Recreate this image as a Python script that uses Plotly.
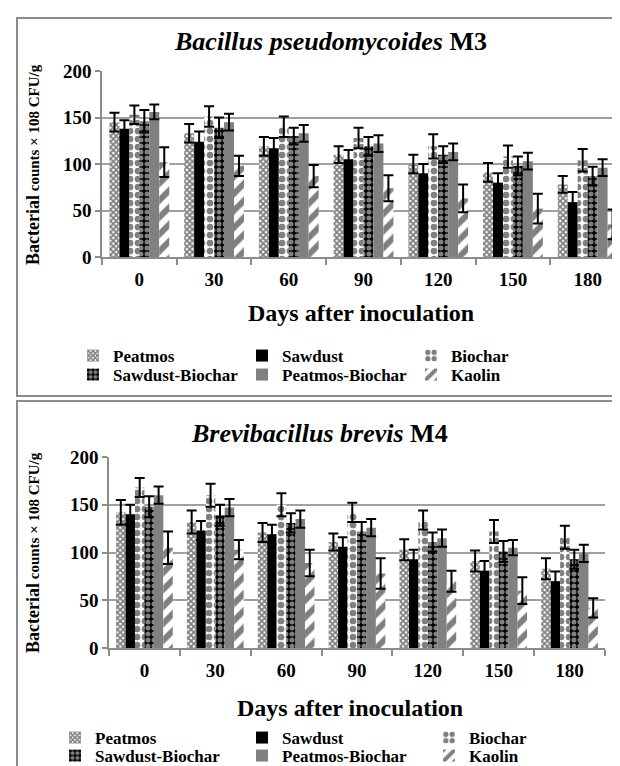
import plotly.graph_objects as go

W, H = 620, 766
FONT = "Liberation Serif, Times New Roman, serif"

days = ["0", "30", "60", "90", "120", "150", "180"]
series_names = ["Peatmos", "Sawdust", "Biochar", "Sawdust-Biochar", "Peatmos-Biochar", "Kaolin"]

# Bacillus pseudomycoides M3
m3_peatmos = [145, 133, 119, 110, 100, 91, 78]
m3_peatmos_err = [10, 10, 10, 9, 10, 10, 9]
m3_sawdust = [138, 124, 117, 105, 90, 80, 59]
m3_sawdust_err = [9, 11, 11, 10, 10, 10, 11]
m3_biochar = [153, 151, 140, 128, 119, 108, 104]
m3_biochar_err = [10, 11, 11, 11, 13, 12, 12]
m3_sawdust_biochar = [146, 139, 130, 119, 110, 98, 87]
m3_sawdust_biochar_err = [12, 11, 9, 10, 9, 10, 10]
m3_peatmos_biochar = [156, 145, 133, 122, 113, 103, 96]
m3_peatmos_biochar_err = [8, 9, 9, 9, 9, 9, 9]
m3_kaolin = [102, 98, 87, 74, 63, 52, 35]
m3_kaolin_err = [16, 11, 12, 14, 15, 16, 16]

# Brevibacillus brevis M4
m4_peatmos = [142, 132, 121, 111, 103, 91, 83]
m4_peatmos_err = [13, 12, 10, 9, 11, 11, 11]
m4_sawdust = [140, 123, 119, 106, 93, 81, 70]
m4_sawdust_err = [10, 10, 10, 10, 10, 10, 10]
m4_biochar = [168, 160, 150, 142, 134, 122, 116]
m4_biochar_err = [10, 12, 12, 10, 10, 12, 12]
m4_sawdust_biochar = [148, 139, 131, 122, 111, 101, 93]
m4_sawdust_biochar_err = [11, 11, 10, 10, 10, 11, 10]
m4_peatmos_biochar = [160, 147, 135, 126, 115, 105, 99]
m4_peatmos_biochar_err = [9, 9, 9, 9, 9, 8, 9]
m4_kaolin = [105, 103, 89, 78, 70, 60, 42]
m4_kaolin_err = [17, 10, 14, 16, 11, 14, 10]

y_ticks = [0, 50, 100, 150, 200]


def px(x):
    return x / W


def py(y):
    return 1 - y / H


styles = [
    dict(color="white", pattern=dict(shape="x", fgcolor="black", bgcolor="white", size=4, solidity=0.7)),
    dict(color="black"),
    dict(color="white", pattern=dict(shape=".", fgcolor="black", bgcolor="white", size=8, solidity=0.55)),
    dict(color="black", pattern=dict(shape=".", fgcolor="white", bgcolor="black", size=6, solidity=0.55)),
    dict(color="#808080"),
    dict(color="white", pattern=dict(shape="/", fgcolor="black", bgcolor="white", size=12, solidity=0.5)),
]

fig = go.Figure()

panels = [
    dict(vals=[m3_peatmos, m3_sawdust, m3_biochar, m3_sawdust_biochar, m3_peatmos_biochar, m3_kaolin],
         errs=[m3_peatmos_err, m3_sawdust_err, m3_biochar_err, m3_sawdust_biochar_err,
               m3_peatmos_biochar_err, m3_kaolin_err],
         xa="x", ya="y", legends=["legend", "legend2"]),
    dict(vals=[m4_peatmos, m4_sawdust, m4_biochar, m4_sawdust_biochar, m4_peatmos_biochar, m4_kaolin],
         errs=[m4_peatmos_err, m4_sawdust_err, m4_biochar_err, m4_sawdust_biochar_err,
               m4_peatmos_biochar_err, m4_kaolin_err],
         xa="x2", ya="y2", legends=["legend3", "legend4"]),
]

for p in panels:
    for i, (name, v, e, st) in enumerate(zip(series_names, p["vals"], p["errs"], styles)):
        marker = dict(color=st["color"], line=dict(width=0))
        if "pattern" in st:
            marker["pattern"] = st["pattern"]
        fig.add_trace(go.Bar(
            x=days, y=v, name=name, marker=marker,
            error_y=dict(type="data", array=e, visible=True, color="black", thickness=2, width=5),
            xaxis=p["xa"], yaxis=p["ya"], legend=p["legends"][i // 3],
        ))

axis_common = dict(showline=True, linecolor="#8c8c8c", linewidth=1.5, ticks="outside",
                   tickcolor="#8c8c8c", tickwidth=1.5,
                   tickfont=dict(family=FONT, size=19, color="black", weight="bold"))

xcommon = dict(axis_common, type="category", tickson="boundaries", ticklen=6, showgrid=False,
               ticklabelstandoff=4)
ycommon = dict(axis_common, range=[0, 200], tickvals=y_ticks, ticklen=5, showgrid=True,
               gridcolor="#a0a0a0", gridwidth=1.5, zeroline=False, ticksuffix="\u00a0")

legend_font = dict(family=FONT, size=17, color="black", weight="bold")


def leg(x, y, ew):
    return dict(orientation="h", x=px(x), y=py(y), xanchor="left", yanchor="middle",
                entrywidth=ew, entrywidthmode="pixels", traceorder="normal",
                font=legend_font, bgcolor="rgba(0,0,0,0)")


fig.update_layout(
    width=W, height=H, autosize=False,
    margin=dict(l=0, r=0, t=0, b=0, autoexpand=False),
    paper_bgcolor="white", plot_bgcolor="white",
    barmode="group", bargap=0.2, bargroupgap=0,
    font=dict(family=FONT, color="black"),
    xaxis=dict(xcommon, domain=[px(94), px(617)], anchor="y"),
    yaxis=dict(ycommon, domain=[py(249), py(63)], anchor="x"),
    xaxis2=dict(xcommon, domain=[px(101), px(597)], anchor="y2"),
    yaxis2=dict(ycommon, domain=[py(640), py(449)], anchor="x2"),
    legend=leg(65, 348, 124),
    legend2=leg(65, 367, 124),
    legend3=leg(47, 730, 142),
    legend4=leg(47, 748, 142),
    showlegend=True,
)

# panel frames
for y0, y1 in [(10, 388), (393, 772)]:
    fig.add_shape(type="rect", xref="paper", yref="paper",
                  x0=px(9), x1=px(623), y0=py(y1), y1=py(y0),
                  line=dict(color="#8c8c8c", width=2), fillcolor="rgba(0,0,0,0)", layer="below")

ann = []
ann.append(dict(text="<b><i>Bacillus pseudomycoides</i> M3</b>", x=px(322), y=py(33),
                font=dict(size=26)))
ann.append(dict(text="<b><i>Brevibacillus brevis</i> M4</b>", x=px(312), y=py(425),
                font=dict(size=26)))
ann.append(dict(text="<b>Days after inoculation</b>", x=px(353), y=py(305), font=dict(size=24)))
ann.append(dict(text="<b>Days after inoculation</b>", x=px(342), y=py(700), font=dict(size=24)))
ytitle = "<b><span style='font-size:18px'>Bacterial</span> counts × 108 CFU/g</b>"
ann.append(dict(text=ytitle, x=px(25), y=py(157), textangle=-90, font=dict(size=15)))
ann.append(dict(text=ytitle, x=px(25), y=py(545), textangle=-90, font=dict(size=15)))
for a in ann:
    a.update(xref="paper", yref="paper", showarrow=False, xanchor="center", yanchor="middle")
    a["font"].update(family=FONT, color="black")
fig.update_layout(annotations=ann)

fig.write_html("out.html")
